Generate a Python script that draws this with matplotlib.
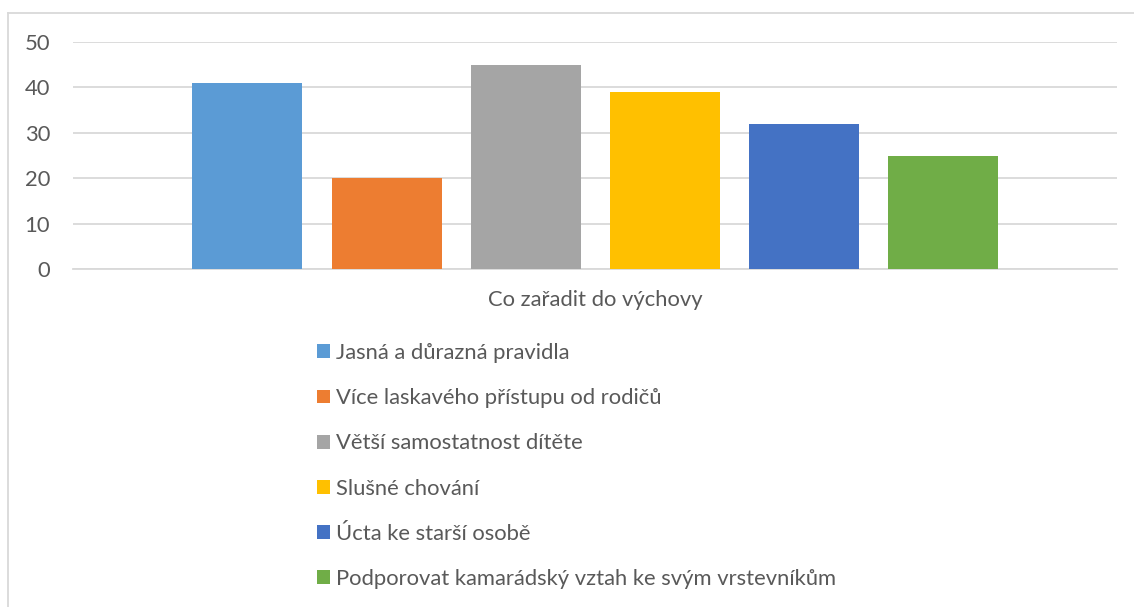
import matplotlib
matplotlib.use("Agg")
import matplotlib.pyplot as plt
from matplotlib.lines import Line2D

category = "Co zařadit do výchovy"
series_names = [
    "Jasná a důrazná pravidla",
    "Více laskavého přístupu od rodičů",
    "Větší samostatnost dítěte",
    "Slušné chování",
    "Úcta ke starší osobě",
    "Podporovat kamarádský vztah ke svým vrstevníkům",
]
values = [41, 20, 45, 39, 32, 25]
colors = ["#5B9BD5", "#ED7D31", "#A5A5A5", "#FFC000", "#4472C4", "#70AD47"]
yticks = [0, 10, 20, 30, 40, 50]

TEXT = "#595959"
GRID = "#D9D9D9"
FS = 15.8
plt.rcParams["font.family"] = ["Lato", "DejaVu Sans"]

W, H = 1134, 607
fig = plt.figure(figsize=(W / 100, H / 100), dpi=100)
ax = fig.add_axes([73 / W, (H - 269) / H, (1117 - 73) / W, (269 - 42) / H])

step = 139 / 1044
width = 110 / 1044
for i, (name, val, col) in enumerate(zip(series_names, values, colors)):
    ax.bar((i - 2.5) * step, val, width=width, color=col, label=name, zorder=3)

ax.set_xlim(-0.5, 0.5)
ax.set_ylim(0, 50)
ax.set_yticks(yticks)
ax.set_xticks([0])
ax.set_xticklabels([category])
ax.grid(axis="y", color=GRID, linewidth=1.3, zorder=0)
for side in ["top", "right", "left"]:
    ax.spines[side].set_visible(False)
ax.spines["bottom"].set_color(GRID)
ax.spines["bottom"].set_linewidth(1.3)
ax.tick_params(axis="both", length=0, colors=TEXT, labelsize=FS)
ax.tick_params(axis="y", pad=16.5)
ax.tick_params(axis="x", pad=15)

# chart area frame (left and top edges visible)
fig.add_artist(Line2D([8 / W, 8 / W], [0, (H - 13) / H], color=GRID, linewidth=1.3))
fig.add_artist(Line2D([8 / W, 1], [(H - 13) / H, (H - 13) / H], color=GRID, linewidth=1.3))

fig.legend(
    loc="upper left",
    bbox_to_anchor=(317 / W, (H - 343) / H),
    frameon=False,
    ncol=1,
    fontsize=FS,
    labelcolor=TEXT,
    handlelength=0.6,
    handleheight=0.6,
    handletextpad=0.25,
    labelspacing=1.15,
    borderpad=0,
    borderaxespad=0,
)

fig.savefig("out.png", dpi=100)
